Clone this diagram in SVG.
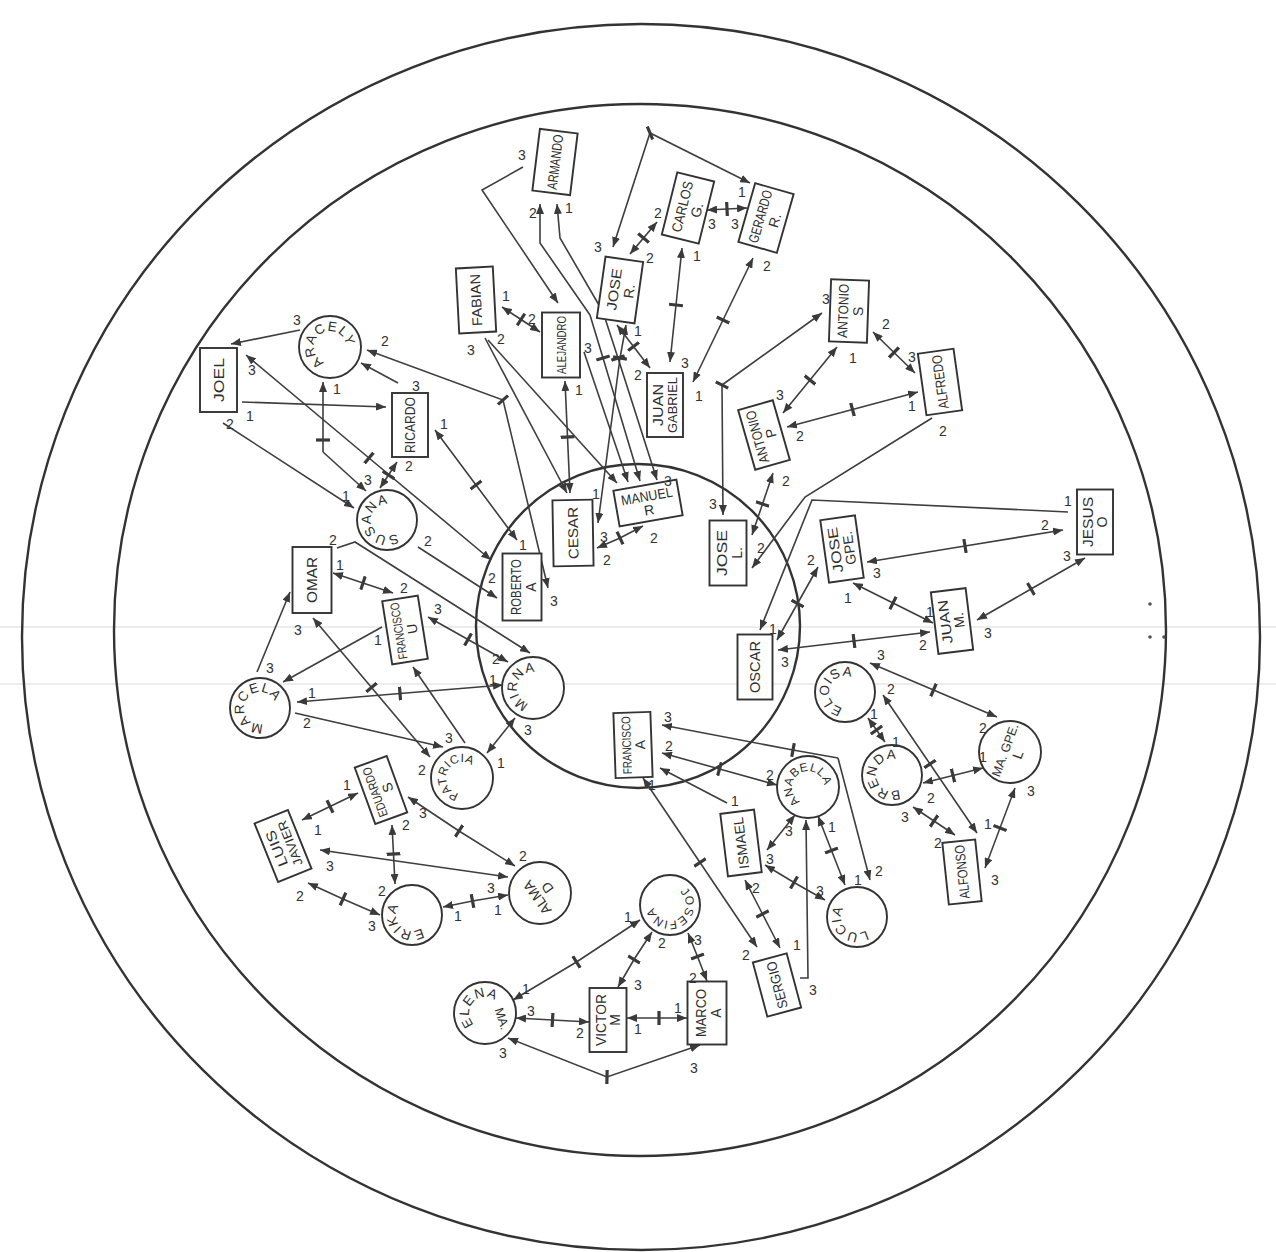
<svg xmlns="http://www.w3.org/2000/svg" width="1276" height="1252" viewBox="0 0 1276 1252">
<style>
.big{fill:none;stroke:#333;stroke-width:2.4}
.nd rect,.nd circle{fill:#fff;stroke:#333;stroke-width:1.9}
.nd text{font-family:"Liberation Sans",Arial,sans-serif;font-size:14px;fill:#2e2e2e;text-anchor:middle}
.nd text.sm{font-size:12.5px}
.nd text.ct{font-size:13.5px;letter-spacing:1px}
.nd text.ct8{font-size:12px;letter-spacing:0.5px}
.c{fill:none;stroke:#3e3e3e;stroke-width:1.6}
.s{marker-start:url(#ah)}
.e{marker-end:url(#ah)}
.t{marker-mid:url(#tk)}
.scan{stroke:#ececec;stroke-width:2}
#labels text{font-family:"Liberation Sans",Arial,sans-serif;font-size:14px;fill:#333;text-anchor:middle;dominant-baseline:central}
</style>
<defs>
<marker id="ah" viewBox="0 0 10 8" refX="10" refY="4" markerWidth="10" markerHeight="8" markerUnits="userSpaceOnUse" orient="auto-start-reverse"><path d="M0,0 L10,4 L0,8 Z" fill="#3a3a3a"/></marker>
<marker id="tk" viewBox="0 0 4 14" refX="2" refY="7" markerWidth="4" markerHeight="14" markerUnits="userSpaceOnUse" orient="auto"><path d="M2,0 L2,14" stroke="#3a3a3a" stroke-width="3.2"/></marker>
<path id="cw" d="M0,16 A16,16 0 1 1 0,-16 A16,16 0 1 1 0,16"/>
</defs>
<rect width="1276" height="1252" fill="#fff"/>
<g id="scan">
<line class="scan" x1="0" y1="627" x2="1276" y2="627"/>
<line class="scan" x1="0" y1="684" x2="1276" y2="684"/>
<circle cx="1150" cy="604" r="1.8" fill="#555"/><circle cx="1150" cy="637" r="1.8" fill="#555"/><circle cx="1164" cy="637" r="1.8" fill="#555"/>
</g>
<g id="rings">
<ellipse class="big" cx="641" cy="637" rx="619" ry="613"/>
<circle class="big" cx="640" cy="630" r="526"/>
<circle class="big" cx="638" cy="626" r="162"/>
</g>
<g id="connectors">
<path class="c e" d="M300,330 L231,344"/>
<path class="c e" d="M242,402 L386,407"/>
<path class="c e" d="M223,423 L354,508"/>
<path class="c s e t" d="M246,355 L369,458 L491,560"/>
<path class="c s t" d="M323,382 L323,440 L323,452"/>
<path class="c e" d="M323,452 L366,491"/>
<path class="c e" d="M398,383 L361,363"/>
<path class="c s e t" d="M397,462 L388.5,475 L380,488"/>
<path class="c s e t" d="M435,430 L476,485 L517,540"/>
<path class="c s e t" d="M367,350 L503,400 L548,588"/>
<path class="c e" d="M418,547 L497,598"/>
<path class="c e" d="M337,548 L355,542 L530,653"/>
<path class="c s e t" d="M333,573 L363,583 L393,593"/>
<path class="c s e t" d="M428,617 L468,639.5 L508,662"/>
<path class="c e" d="M382,627 L283,682"/>
<path class="c e" d="M257,672 L290,592"/>
<path class="c s e t" d="M313,618 L371.5,687.5 L430,757"/>
<path class="c s e t" d="M503,685 L400,693.5 L297,702"/>
<path class="c e" d="M295,713 L443,747"/>
<path class="c e" d="M465,743 L413,667"/>
<path class="c s e" d="M515,718 L487,753"/>
<path class="c s e t" d="M502,307 L521,319.5 L540,332"/>
<path class="c e" d="M523,167 L482,190 L558,303"/>
<path class="c s e t" d="M565,381 L567.5,437 L570,493"/>
<path class="c e" d="M485,338 L567,493"/>
<path class="c e" d="M488,340 L617,483"/>
<path class="c s" d="M540,204 L540,243 L590,315"/>
<path class="c e t" d="M590,315 L603,358 L640,481"/>
<path class="c s" d="M557,204 L560,238 L603,312"/>
<path class="c e t" d="M603,312 L618,358 L657,480"/>
<path class="c e" d="M584,352 L628,482"/>
<path class="c s e t" d="M626,325 L620,358 L598,523"/>
<path class="c s e t" d="M613,247 L650,133 L750,183"/>
<path class="c s e t" d="M630,254 L643.5,238 L657,222"/>
<path class="c s e t" d="M707,210 L727,209 L747,208"/>
<path class="c s e t" d="M682,248 L676,305 L670,362"/>
<path class="c s e t" d="M753,258 L723,320 L693,382"/>
<path class="c s e t" d="M617,325 L633.5,346.5 L650,368"/>
<path class="c s e t" d="M822,313 L722,385 L723,515"/>
<path class="c s e t" d="M837,347 L810,380 L783,413"/>
<path class="c s e t" d="M873,332 L894,352.5 L915,373"/>
<path class="c s e t" d="M787,427 L852.5,409.5 L918,392"/>
<path class="c e" d="M932,418 L805,497 L752,568"/>
<path class="c s e t" d="M773,473 L762.5,504 L752,535"/>
<path class="c e" d="M1068,512 L812,500 L760,630"/>
<path class="c s e t" d="M867,562 L965,546 L1063,530"/>
<path class="c s e t" d="M977,620 L1031,589 L1085,558"/>
<path class="c s e t" d="M853,583 L893,603 L933,623"/>
<path class="c s e t" d="M777,640 L797.5,603.5 L818,567"/>
<path class="c s e t" d="M778,650 L854,641 L930,632"/>
<path class="c s e t" d="M870,663 L933.5,690 L997,717"/>
<path class="c s e t" d="M883,695 L930,764 L977,833"/>
<path class="c s e t" d="M868,718 L876.5,730 L885,742"/>
<path class="c s e t" d="M923,783 L953,775.5 L983,768"/>
<path class="c s e t" d="M913,807 L934,821 L955,835"/>
<path class="c s e t" d="M1015,788 L1000,828 L985,868"/>
<path class="c s t" d="M662,725 L793,750 L838,758"/>
<path class="c e" d="M838,758 L870,880"/>
<path class="c s e t" d="M662,753 L719.5,769 L777,785"/>
<path class="c e" d="M727,803 L660,768"/>
<path class="c s e t" d="M643,778 L700,862.5 L757,947"/>
<path class="c s e" d="M795,815 L767,850"/>
<path class="c s e t" d="M818,816 L831.5,850.5 L845,885"/>
<path class="c s e t" d="M765,865 L794,882.5 L825,900"/>
<path class="c s e t" d="M745,880 L762.5,914 L780,948"/>
<path class="c e" d="M800,978 L808,978 L806,820"/>
<path class="c s e t" d="M302,820 L330,806.5 L358,793"/>
<path class="c s e" d="M320,850 L508,877"/>
<path class="c s e t" d="M308,883 L343,899 L380,915"/>
<path class="c s e t" d="M392,825 L393.5,854 L395,884"/>
<path class="c s e t" d="M408,797 L459,831 L515,866"/>
<path class="c s e t" d="M443,907 L472.5,901 L508,895"/>
<path class="c s e t" d="M640,920 L576.5,962 L513,1000"/>
<path class="c s e t" d="M652,932 L634,959.5 L618,987"/>
<path class="c s e t" d="M688,933 L697.5,956.5 L707,981"/>
<path class="c s e t" d="M516,1018 L552.5,1020 L589,1022"/>
<path class="c s e t" d="M627,1018 L659,1018 L687,1018"/>
<path class="c s e t" d="M508,1038 L607,1077 L700,1045"/>
<path class="c s e t" d="M597,548 L620,538 L643,526"/>
</g>
<g id="n-joel" class="nd" transform="translate(218.5,380) rotate(-90)"><rect x="-32" y="-18.5" width="64" height="37"/><text y="5" textLength="44" lengthAdjust="spacingAndGlyphs">JOEL</text></g>
<g id="n-ricardo" class="nd" transform="translate(410,425) rotate(-90)"><rect x="-32" y="-18" width="64" height="36"/><text y="5" textLength="56" lengthAdjust="spacingAndGlyphs">RICARDO</text></g>
<g id="n-fabian" class="nd" transform="translate(476,300) rotate(-93)"><rect x="-32.5" y="-18.5" width="65" height="37"/><text y="5" textLength="52" lengthAdjust="spacingAndGlyphs">FABIAN</text></g>
<g id="n-armando" class="nd" transform="translate(555,162) rotate(-83)"><rect x="-31" y="-19" width="62" height="38"/><text y="5" textLength="55" lengthAdjust="spacingAndGlyphs">ARMANDO</text></g>
<g id="n-alejandro" class="nd" transform="translate(561,345) rotate(-90)"><rect x="-32.5" y="-19" width="65" height="38"/><text class="sm" y="5" textLength="58" lengthAdjust="spacingAndGlyphs">ALEJANDRO</text></g>
<g id="n-jose-r" class="nd" transform="translate(620,290) rotate(-82)"><rect x="-31" y="-19" width="62" height="38"/><text y="-1" textLength="42" lengthAdjust="spacingAndGlyphs">JOSE</text><text y="14">R.</text></g>
<g id="n-carlos" class="nd" transform="translate(688,208) rotate(-76)"><rect x="-32" y="-19" width="64" height="38"/><text y="-1" textLength="52" lengthAdjust="spacingAndGlyphs">CARLOS</text><text y="14">G.</text></g>
<g id="n-gerardo" class="nd" transform="translate(766,218) rotate(-74)"><rect x="-30.5" y="-20" width="61" height="40"/><text y="-1" textLength="54" lengthAdjust="spacingAndGlyphs">GERARDO</text><text y="14">R.</text></g>
<g id="n-juan-g" class="nd" transform="translate(665,405) rotate(-90)"><rect x="-32" y="-18" width="64" height="36"/><text y="-2" textLength="42" lengthAdjust="spacingAndGlyphs">JUAN</text><text class="sm" y="12" textLength="56" lengthAdjust="spacingAndGlyphs">GABRIEL</text></g>
<g id="n-antonio-s" class="nd" transform="translate(849,311) rotate(-88)"><rect x="-31" y="-19" width="62" height="38"/><text y="-1" textLength="54" lengthAdjust="spacingAndGlyphs">ANTONIO</text><text y="14">S</text></g>
<g id="n-alfredo" class="nd" transform="translate(940,382) rotate(-98)"><rect x="-31" y="-18" width="62" height="36"/><text y="5" textLength="54" lengthAdjust="spacingAndGlyphs">ALFREDO</text></g>
<g id="n-antonio-p" class="nd" transform="translate(764,435) rotate(-106)"><rect x="-31" y="-18" width="62" height="36"/><text y="-2" textLength="54" lengthAdjust="spacingAndGlyphs">ANTONIO</text><text y="12">P</text></g>
<g id="n-jose-l" class="nd" transform="translate(728,553) rotate(-90)"><rect x="-32.5" y="-18.5" width="65" height="37"/><text y="-1" textLength="46" lengthAdjust="spacingAndGlyphs">JOSE</text><text y="14">L.</text></g>
<g id="n-jose-gpe" class="nd" transform="translate(842,549) rotate(-98)"><rect x="-31.5" y="-17.5" width="63" height="35"/><text y="-2" textLength="46" lengthAdjust="spacingAndGlyphs">JOSE</text><text y="12">GPE.</text></g>
<g id="n-jesus" class="nd" transform="translate(1095,522) rotate(-90)"><rect x="-32.5" y="-18" width="65" height="36"/><text y="-2" textLength="50" lengthAdjust="spacingAndGlyphs">JESUS</text><text y="12">O</text></g>
<g id="n-juan-m" class="nd" transform="translate(952,621) rotate(-97)"><rect x="-31" y="-17.5" width="62" height="35"/><text y="-2" textLength="44" lengthAdjust="spacingAndGlyphs">JUAN</text><text y="12">M.</text></g>
<g id="n-oscar" class="nd" transform="translate(755,667) rotate(-90)"><rect x="-32.5" y="-17.5" width="65" height="35"/><text y="5" textLength="52" lengthAdjust="spacingAndGlyphs">OSCAR</text></g>
<g id="n-cesar" class="nd" transform="translate(573,533) rotate(-91)"><rect x="-33" y="-20" width="66" height="40"/><text y="5" textLength="52" lengthAdjust="spacingAndGlyphs">CESAR</text></g>
<g id="n-manuel" class="nd" transform="translate(648,503) rotate(-10)"><rect x="-32" y="-18" width="64" height="36"/><text y="-2" textLength="52" lengthAdjust="spacingAndGlyphs">MANUEL</text><text y="12">R</text></g>
<g id="n-roberto" class="nd" transform="translate(522,587) rotate(-90)"><rect x="-33.5" y="-19.5" width="67" height="39"/><text y="-1" textLength="56" lengthAdjust="spacingAndGlyphs">ROBERTO</text><text y="14">A</text></g>
<g id="n-omar" class="nd" transform="translate(312,580) rotate(-90)"><rect x="-33" y="-19.5" width="66" height="39"/><text y="5" textLength="46" lengthAdjust="spacingAndGlyphs">OMAR</text></g>
<g id="n-francisco-u" class="nd" transform="translate(405,630) rotate(-99)"><rect x="-32" y="-18" width="64" height="36"/><text class="sm" y="-2" textLength="57" lengthAdjust="spacingAndGlyphs">FRANCISCO</text><text y="12">U</text></g>
<g id="n-eduardo" class="nd" transform="translate(381,790) rotate(-110)"><rect x="-30" y="-17" width="60" height="34"/><text class="sm" y="-2" textLength="52" lengthAdjust="spacingAndGlyphs">EDUARDO</text><text y="12">S</text></g>
<g id="n-luis" class="nd" transform="translate(283,846) rotate(-112)"><rect x="-31.5" y="-18" width="63" height="36"/><text y="-2" textLength="38" lengthAdjust="spacingAndGlyphs">LUIS</text><text class="sm" y="12" textLength="48" lengthAdjust="spacingAndGlyphs">JAVIER</text></g>
<g id="n-victor" class="nd" transform="translate(608,1020) rotate(-90)"><rect x="-32" y="-18.5" width="64" height="37"/><text y="-2" textLength="52" lengthAdjust="spacingAndGlyphs">VICTOR</text><text y="12">M</text></g>
<g id="n-marco" class="nd" transform="translate(707,1013) rotate(-90)"><rect x="-31.5" y="-19.5" width="63" height="39"/><text y="-1" textLength="48" lengthAdjust="spacingAndGlyphs">MARCO</text><text y="14">A</text></g>
<g id="n-francisco-a" class="nd" transform="translate(633,745) rotate(-92)"><rect x="-32.5" y="-18.5" width="65" height="37"/><text class="sm" y="-2" textLength="58" lengthAdjust="spacingAndGlyphs">FRANCISCO</text><text y="12">A</text></g>
<g id="n-ismael" class="nd" transform="translate(741,843) rotate(-97)"><rect x="-31.5" y="-17" width="63" height="34"/><text y="5" textLength="52" lengthAdjust="spacingAndGlyphs">ISMAEL</text></g>
<g id="n-sergio" class="nd" transform="translate(777,985) rotate(-105)"><rect x="-28" y="-17.5" width="56" height="35"/><text y="5" textLength="48" lengthAdjust="spacingAndGlyphs">SERGIO</text></g>
<g id="n-alfonso" class="nd" transform="translate(962,872) rotate(-96)"><rect x="-31" y="-16.5" width="62" height="33"/><text y="5" textLength="54" lengthAdjust="spacingAndGlyphs">ALFONSO</text></g>
<g id="n-aracely" class="nd" transform="translate(330,347)"><circle r="31"/><text class="ct" transform="rotate(-35)"><textPath href="#cw" startOffset="50%">ARACELY</textPath></text></g>
<g id="n-susana" class="nd" transform="translate(387,520)"><circle r="30"/><text class="ct" transform="rotate(-105)"><textPath href="#cw" startOffset="50%">SUSANA</textPath></text></g>
<g id="n-marcela" class="nd" transform="translate(260,708)"><circle r="30"/><text class="ct" transform="rotate(-62)"><textPath href="#cw" startOffset="50%">MARCELA</textPath></text></g>
<g id="n-mirna" class="nd" transform="translate(533,688)"><circle r="31"/><text class="ct" transform="rotate(-78)"><textPath href="#cw" startOffset="50%">MIRNA</textPath></text></g>
<g id="n-patricia" class="nd" transform="translate(462,778)"><circle r="31"/><text class="ct8" transform="rotate(-65)"><textPath href="#cw" startOffset="50%">PATRICIA</textPath></text></g>
<g id="n-erika" class="nd" transform="translate(412,915)"><circle r="30"/><text class="ct" transform="rotate(-135)"><textPath href="#cw" startOffset="50%">ERIKA</textPath></text></g>
<g id="n-alma" class="nd" transform="translate(540,893)"><circle r="31"/><text transform="rotate(-125)" x="-2" y="0">ALMA</text><text transform="rotate(-125)" y="14">D</text></g>
<g id="n-josefina" class="nd" transform="translate(670,905)"><circle r="30"/><text class="ct8" transform="rotate(150)"><textPath href="#cw" startOffset="50%">JOSEFINA</textPath></text></g>
<g id="n-ma-elena" class="nd" transform="translate(485,1013)"><circle r="31"/><text class="ct" transform="rotate(-48)"><textPath href="#cw" startOffset="50%">ELENA</textPath></text><text class="sm" transform="translate(13,7) rotate(72)">MA.</text></g>
<g id="n-anabella" class="nd" transform="translate(808,787)"><circle r="31"/><text class="ct8" transform="rotate(-33)"><textPath href="#cw" startOffset="50%">ANABELLA</textPath></text></g>
<g id="n-lucia" class="nd" transform="translate(857,917)"><circle r="30"/><text class="ct" transform="rotate(-135)"><textPath href="#cw" startOffset="50%">LUCIA</textPath></text></g>
<g id="n-eloisa" class="nd" transform="translate(845,692)"><circle r="30"/><text class="ct" transform="rotate(-73)"><textPath href="#cw" startOffset="50%">ELOISA</textPath></text></g>
<g id="n-brenda" class="nd" transform="translate(892,775)"><circle r="30"/><text class="ct" transform="rotate(-95)"><textPath href="#cw" startOffset="50%">BRENDA</textPath></text></g>
<g id="n-ma-gpe" class="nd" transform="translate(1010,752)"><circle r="31"/><text class="sm" transform="rotate(-70)" y="-1">MA. GPE.</text><text transform="rotate(-70)" y="13">L</text></g>
<g id="labels">
<text x="297" y="320">3</text><text x="250" y="416">1</text><text x="230" y="424">2</text>
<text x="252" y="370">3</text><text x="492" y="578">2</text>
<text x="337" y="389">1</text><text x="346" y="496">1</text>
<text x="416" y="386">3</text>
<text x="409" y="466">2</text><text x="368" y="480">3</text>
<text x="444" y="424">1</text><text x="523" y="545">1</text>
<text x="385" y="341">2</text><text x="554" y="601">3</text>
<text x="428" y="541">2</text>
<text x="333" y="540">2</text>
<text x="340" y="565">1</text><text x="404" y="588">2</text>
<text x="438" y="609">3</text><text x="496" y="659">2</text>
<text x="378" y="640">1</text>
<text x="270" y="668">3</text>
<text x="298" y="630">3</text><text x="422" y="770">2</text>
<text x="312" y="693">1</text><text x="493" y="680">1</text>
<text x="307" y="723">2</text><text x="449" y="738">3</text>
<text x="528" y="730">3</text><text x="501" y="763">1</text>
<text x="506" y="296">1</text><text x="532" y="319">2</text>
<text x="522" y="155">3</text>
<text x="579" y="390">1</text>
<text x="471" y="350">3</text>
<text x="501" y="339">2</text>
<text x="533" y="213">2</text><text x="569" y="208">1</text>
<text x="588" y="348">3</text>
<text x="604" y="537">3</text>
<text x="596" y="494">1</text><text x="668" y="481">3</text>
<text x="598" y="247">3</text><text x="742" y="192">1</text>
<text x="650" y="258">2</text><text x="658" y="213">2</text>
<text x="712" y="224">3</text><text x="735" y="224">3</text>
<text x="697" y="256">1</text><text x="685" y="363">3</text>
<text x="767" y="266">2</text><text x="699" y="396">1</text>
<text x="638" y="331">1</text><text x="638" y="375">2</text>
<text x="826" y="299">3</text><text x="713" y="504">3</text>
<text x="853" y="358">1</text><text x="780" y="395">3</text>
<text x="886" y="324">2</text><text x="912" y="357">3</text>
<text x="800" y="436">2</text><text x="912" y="406">1</text>
<text x="943" y="431">2</text>
<text x="786" y="481">2</text><text x="761" y="548">2</text>
<text x="1068" y="501">1</text>
<text x="877" y="573">3</text><text x="1045" y="525">2</text>
<text x="988" y="633">3</text><text x="1067" y="556">3</text>
<text x="848" y="598">1</text><text x="930" y="612">1</text>
<text x="773" y="629">1</text><text x="811" y="560">2</text>
<text x="785" y="662">3</text><text x="923" y="645">2</text>
<text x="881" y="655">3</text><text x="983" y="728">2</text>
<text x="891" y="689">2</text><text x="988" y="824">1</text>
<text x="874" y="714">1</text><text x="896" y="742">1</text>
<text x="931" y="798">2</text><text x="983" y="757">1</text>
<text x="905" y="817">3</text><text x="938" y="843">2</text>
<text x="1031" y="791">3</text><text x="995" y="880">3</text>
<text x="668" y="717">3</text><text x="879" y="871">2</text>
<text x="669" y="746">2</text><text x="770" y="775">2</text>
<text x="735" y="801">1</text>
<text x="652" y="785">1</text><text x="746" y="955">2</text>
<text x="789" y="831">3</text>
<text x="832" y="827">1</text><text x="858" y="880">1</text>
<text x="770" y="859">3</text><text x="820" y="891">3</text>
<text x="756" y="888">2</text><text x="797" y="945">1</text>
<text x="813" y="990">3</text>
<text x="318" y="830">1</text><text x="347" y="785">1</text>
<text x="330" y="866">3</text><text x="491" y="888">3</text>
<text x="300" y="896">2</text><text x="372" y="926">3</text>
<text x="406" y="825">2</text><text x="382" y="891">2</text>
<text x="423" y="813">3</text><text x="523" y="856">2</text>
<text x="458" y="916">1</text><text x="498" y="910">1</text>
<text x="628" y="917">1</text><text x="526" y="989">1</text>
<text x="662" y="943">2</text><text x="638" y="985">3</text>
<text x="698" y="940">3</text><text x="693" y="978">2</text>
<text x="531" y="1011">3</text><text x="580" y="1033">2</text>
<text x="638" y="1029">1</text><text x="678" y="1008">1</text>
<text x="503" y="1053">3</text><text x="694" y="1068">3</text>
<text x="607" y="560">2</text><text x="654" y="538">2</text>
</g>
</svg>
